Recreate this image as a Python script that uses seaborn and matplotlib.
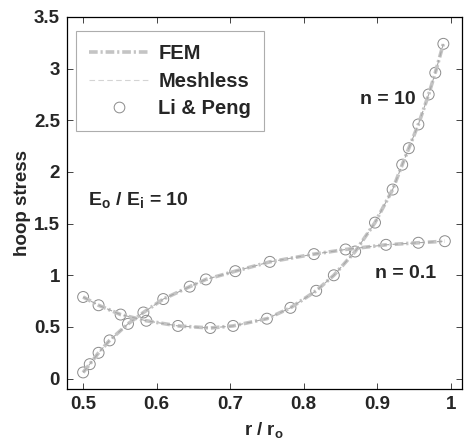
import matplotlib
matplotlib.use("Agg")
import matplotlib.pyplot as plt
import seaborn as sns
import pandas as pd
from matplotlib.lines import Line2D

# Data
n01_x = [0.500, 0.509, 0.521, 0.536, 0.561, 0.582, 0.609, 0.645, 0.667, 0.707,
         0.754, 0.814, 0.857, 0.912, 0.956, 0.992]
n01_y = [0.06, 0.14, 0.25, 0.37, 0.53, 0.64, 0.77, 0.89, 0.96, 1.04,
         1.13, 1.205, 1.25, 1.295, 1.315, 1.33]

n10_x = [0.500, 0.521, 0.551, 0.586, 0.629, 0.673, 0.704, 0.750, 0.782, 0.817,
         0.841, 0.870, 0.897, 0.921, 0.934, 0.943, 0.956, 0.970, 0.979, 0.990]
n10_y = [0.79, 0.71, 0.62, 0.56, 0.51, 0.49, 0.51, 0.58, 0.685, 0.85,
         1.00, 1.23, 1.51, 1.83, 2.07, 2.23, 2.46, 2.75, 2.96, 3.24]

x_ticks = [0.5, 0.6, 0.7, 0.8, 0.9, 1.0]
x_tick_labels = ["0.5", "0.6", "0.7", "0.8", "0.9", "1"]
y_ticks = [0, 0.5, 1, 1.5, 2, 2.5, 3, 3.5]
y_tick_labels = ["0", "0.5", "1", "1.5", "2", "2.5", "3", "3.5"]

sns.set_style("ticks")
plt.rcParams["font.family"] = ["Liberation Sans", "DejaVu Sans"]
plt.rcParams["mathtext.fontset"] = "custom"
plt.rcParams["mathtext.bf"] = "Liberation Sans:bold"
plt.rcParams["mathtext.rm"] = "Liberation Sans:bold"
plt.rcParams["mathtext.it"] = "Liberation Sans:bold"

FS_T = 13.5
FS_A = 14

fig = plt.figure(figsize=(4.65, 4.42), dpi=100)
ax = fig.add_axes([0.144, 0.12, 0.849, 0.8416])

df01 = pd.DataFrame({"x": n01_x, "y": n01_y})
df10 = pd.DataFrame({"x": n10_x, "y": n10_y})

fem_dash = [2.4, 0.8, 0.6, 0.8]
fem_col, fem_lw = "#c4c4c4", 2.6
msh_dash = [5, 3]
msh_col, msh_lw = "#a8a8a8", 0.8
circ_kw = dict(marker="o", s=62, facecolors="none", edgecolors="#8a8a8a", linewidths=0.7)

for df in (df01, df10):
    sns.lineplot(data=df, x="x", y="y", ax=ax, sort=False, estimator=None,
                 color=fem_col, lw=fem_lw, linestyle=(0, fem_dash))
    sns.lineplot(data=df, x="x", y="y", ax=ax, sort=False, estimator=None,
                 color=msh_col, lw=msh_lw, linestyle=(0, msh_dash))
    sns.scatterplot(data=df, x="x", y="y", ax=ax, **circ_kw)

handles = [
    Line2D([], [], linestyle=(0, fem_dash), color=fem_col, lw=fem_lw),
    Line2D([], [], linestyle=(0, [5, 3]), color="#d4d4d4", lw=0.8),
    Line2D([], [], linestyle="none", marker="o", markersize=7.7, markerfacecolor="none",
           markeredgecolor="#8a8a8a", markeredgewidth=0.7),
]
leg = ax.legend(handles, ["FEM", "Meshless", "Li & Peng"], loc="upper left",
                bbox_to_anchor=(0.022, 0.962), frameon=True, fancybox=False,
                prop={"weight": "bold", "size": 14.5}, handlelength=3.0,
                labelspacing=0.42, borderpad=0.65, handletextpad=0.45, borderaxespad=0)
leg.get_frame().set_edgecolor("#999999")
leg.get_frame().set_linewidth(0.8)

ax.text(0.914, 2.70, "n = 10", ha="center", va="center", fontsize=FS_A, fontweight="bold")
ax.text(0.939, 1.02, "n = 0.1", ha="center", va="center", fontsize=FS_A, fontweight="bold")
ax.text(0.575, 1.73, r"E$_\mathbf{o}$ / E$_\mathbf{i}$ = 10", ha="center", va="center",
        fontsize=FS_A, fontweight="bold")

ax.set_xlim(0.478, 1.015)
ax.set_ylim(-0.1, 3.5)
ax.set_xticks(x_ticks)
ax.set_xticklabels(x_tick_labels)
ax.set_yticks(y_ticks)
ax.set_yticklabels(y_tick_labels)
ax.tick_params(direction="in", top=True, right=True, length=4, width=0.6, labelsize=FS_T, pad=5)
for lab in ax.get_xticklabels() + ax.get_yticklabels():
    lab.set_fontweight("bold")
for sp in ax.spines.values():
    sp.set_visible(True)
    sp.set_linewidth(0.9)
    sp.set_color("black")

ax.set_xlabel(r"r / r$_\mathbf{o}$", fontsize=FS_T, fontweight="bold", labelpad=5)
ax.set_ylabel("hoop stress", fontsize=FS_T, fontweight="bold", labelpad=2)

fig.savefig("out.png", dpi=100)
